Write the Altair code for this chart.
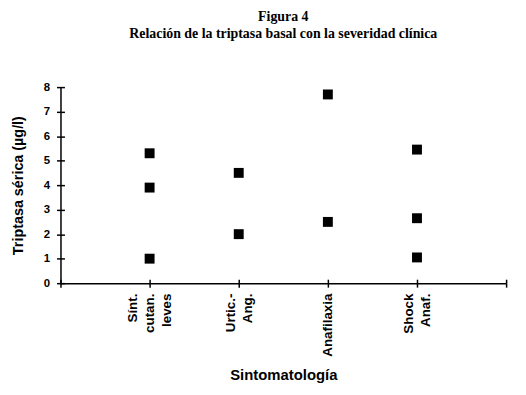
import altair as alt
import pandas as pd

categories = ["Sínt. cutan. leves", "Urtic.- Ang.", "Anafilaxia", "Shock Anaf."]
cat_lines = [["Sínt.", "cutan.", "leves"], ["Urtic.-", "Ang."], ["Anafilaxia"], ["Shock", "Anaf."]]
values = [
    [5.3, 3.9, 1.0],
    [4.5, 2.0],
    [7.7, 2.5],
    [5.45, 2.65, 1.05],
]

rows = []
for i, (c, vs) in enumerate(zip(categories, values)):
    for v in vs:
        rows.append({"cat": c, "pos": i + 1, "val": v})
df = pd.DataFrame(rows)

LH = 17
label_expr = " : ".join(
    f"datum.value == {i + 1} ? {lines!r}" for i, lines in enumerate(cat_lines)
) + " : ''"
offset_conditions = [
    {"test": f"datum.value == {i + 1}", "value": -(len(lines) - 1) * LH / 2}
    for i, lines in enumerate(cat_lines)
]

FONT = "Liberation Sans"

x_main = alt.X(
    "pos:Q",
    scale=alt.Scale(domain=[0, 5], nice=False, zero=False),
    axis=alt.Axis(
        values=[0, 1, 2, 3, 4, 5], labelExpr=label_expr, labelAngle=270,
        labelAlign="right", labelBaseline="middle", labelFont=FONT,
        labelFontWeight="bold", labelFontSize=13.5, labelLineHeight=LH,
        labelOffset={"condition": offset_conditions, "value": 0},
        labelColor="black", tickSize=4, tickColor="black", tickWidth=1.5,
        domainColor="black", domainWidth=1.5, grid=False, labelPadding=6,
        title="Sintomatología", titleFont=FONT, titleFontSize=15,
        titleFontWeight="bold", titleColor="black", titlePadding=12,
        labelOverlap=False,
    ),
)
y_main = alt.Y(
    "val:Q",
    scale=alt.Scale(domain=[0, 8], nice=False),
    axis=alt.Axis(
        values=list(range(9)), labelFont=FONT, labelFontWeight="bold",
        labelFontSize=11.5, labelColor="black", tickSize=4, tickColor="black",
        tickWidth=1.5, domainColor="black", domainWidth=1.5, grid=False,
        labelPadding=7, title="Triptasa sérica (µg/l)", titleFont=FONT,
        titleFontSize=14.5, titleFontWeight="bold", titleColor="black",
        titlePadding=18,
    ),
)

points = alt.Chart(df).mark_square(size=100, color="black", opacity=1).encode(
    x=x_main, y=y_main
)

inner = alt.Chart(df).mark_point(opacity=0).encode(
    x=alt.X("pos:Q", axis=alt.Axis(orient="bottom", offset=-4, values=[0, 1, 2, 3, 4, 5],
                                   tickSize=4, tickColor="black", tickWidth=1.5,
                                   labels=False, domain=False, grid=False, title=None)),
    y=alt.Y("val:Q", axis=alt.Axis(orient="left", offset=-4, values=list(range(9)),
                                   tickSize=4, tickColor="black", tickWidth=1.5,
                                   labels=False, domain=False, grid=False, title=None)),
)

chart = (
    alt.layer(points, inner)
    .resolve_axis(x="independent", y="independent")
    .properties(
        width=450,
        height=198,
        title=alt.TitleParams(
            ["Figura 4", "Relación de la triptasa basal con la severidad clínica"],
            font="Liberation Serif", fontSize=14, fontWeight="bold", color="black",
            anchor="middle", frame="group", lineHeight=17, offset=41,
        ),
        padding={"left": 2, "top": 0, "right": 5, "bottom": 5},
    )
    .configure_view(stroke=None)
)

chart.save("out.html", embed_options={"renderer": "svg", "actions": False})
